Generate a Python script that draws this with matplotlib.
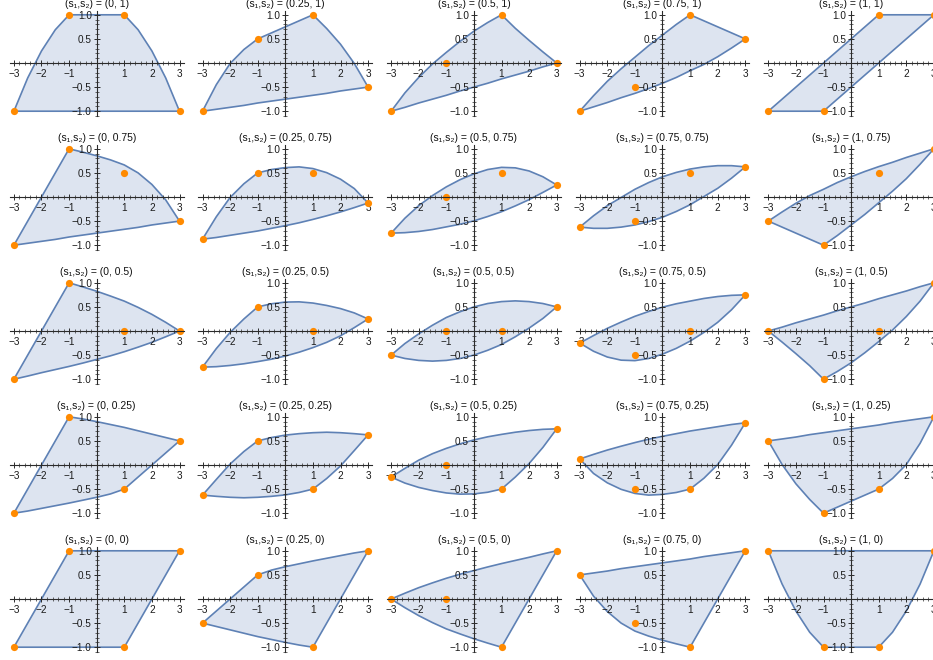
import numpy as np
import matplotlib
matplotlib.use("Agg")
import matplotlib.pyplot as plt
from matplotlib.ticker import MultipleLocator

# parameter values: columns are s1, rows are s2
s1_vals = [0, 0.25, 0.5, 0.75, 1]
s2_vals = [1, 0.75, 0.5, 0.25, 0]
s1_labels = ["0", "0.25", "0.5", "0.75", "1"]
s2_labels = ["1", "0.75", "0.5", "0.25", "0"]

# x positions where the region boundary was read
xs = [-3, -2.5, -2, -1.5, -1, -0.5, 0, 0.5, 1, 1.5, 2, 2.5, 3]
# x positions of the orange points
pt_x = [-3, -1, 1, 3]

# row s2 = 1
upper_r1 = [
    [-1, -0.31, 0.25, 0.69, 1, 1, 1, 1, 1, 0.69, 0.25, -0.31, -1],
    [-1, -0.45, -0.01, 0.28, 0.5, 0.625, 0.75, 0.875, 1, 0.715, 0.39, -0.01, -0.5],
    [-1, -0.62, -0.3, -0.02, 0.22, 0.45, 0.66, 0.84, 1, 0.72, 0.47, 0.23, 0],
    [-1, -0.68, -0.38, -0.12, 0.12, 0.36, 0.58, 0.8, 1, 0.875, 0.75, 0.625, 0.5],
    [-1, -0.75, -0.5, -0.25, 0, 0.25, 0.5, 0.75, 1, 1, 1, 1, 1],
]
lower_r1 = [
    [-1, -1, -1, -1, -1, -1, -1, -1, -1, -1, -1, -1, -1],
    [-1, -0.96, -0.92, -0.88, -0.83, -0.79, -0.75, -0.71, -0.67, -0.63, -0.58, -0.54, -0.5],
    [-1, -0.92, -0.83, -0.75, -0.67, -0.58, -0.5, -0.42, -0.33, -0.25, -0.17, -0.08, 0],
    [-1, -0.91, -0.82, -0.72, -0.63, -0.53, -0.42, -0.3, -0.16, -0.03, 0.13, 0.31, 0.5],
    [-1, -1, -1, -1, -1, -0.75, -0.5, -0.25, 0, 0.25, 0.5, 0.75, 1],
]
points_r1 = [[-1, 1, 1, -1], [-1, 0.5, 1, -0.5], [-1, 0, 1, 0], [-1, -0.5, 1, 0.5], [-1, -1, 1, 1]]

# row s2 = 0.75
upper_r2 = [
    [-1, -0.5, 0, 0.5, 1, 0.93, 0.855, 0.77, 0.665, 0.5, 0.26, -0.06, -0.5],
    [-0.875, -0.41, -0.01, 0.275, 0.5, 0.57, 0.61, 0.625, 0.59, 0.505, 0.37, 0.175, -0.125],
    [-0.75, -0.44, -0.18, 0.03, 0.21, 0.36, 0.48, 0.57, 0.615, 0.605, 0.54, 0.42, 0.25],
    [-0.625, -0.39, -0.18, -0.01, 0.16, 0.3, 0.42, 0.51, 0.58, 0.625, 0.65, 0.65, 0.625],
    [-0.5, -0.31, -0.13, 0.03, 0.16, 0.3, 0.42, 0.53, 0.63, 0.72, 0.82, 0.91, 1],
]
lower_r2 = [
    [-1, -0.96, -0.92, -0.88, -0.83, -0.79, -0.75, -0.71, -0.67, -0.63, -0.58, -0.54, -0.5],
    [-0.875, -0.84, -0.795, -0.75, -0.705, -0.65, -0.595, -0.535, -0.465, -0.39, -0.31, -0.22, -0.125],
    [-0.75, -0.74, -0.715, -0.675, -0.62, -0.565, -0.495, -0.405, -0.305, -0.185, -0.055, 0.095, 0.25],
    [-0.625, -0.65, -0.65, -0.625, -0.58, -0.51, -0.42, -0.3, -0.16, 0.01, 0.18, 0.39, 0.625],
    [-0.5, -0.625, -0.75, -0.875, -1, -0.8, -0.58, -0.36, -0.12, 0.12, 0.38, 0.68, 1],
]
points_r2 = [[-1, 1, 0.5, -0.5], [-0.875, 0.5, 0.5, -0.125], [-0.75, 0, 0.5, 0.25],
             [-0.625, -0.5, 0.5, 0.625], [-0.5, -1, 0.5, 1]]

# row s2 = 0.5
upper_r3 = [
    [-1, -0.5, 0, 0.5, 1, 0.915, 0.825, 0.725, 0.62, 0.49, 0.345, 0.18, 0],
    [-0.75, -0.365, -0.03, 0.25, 0.5, 0.565, 0.6, 0.605, 0.58, 0.53, 0.465, 0.375, 0.25],
    [-0.5, -0.26, -0.06, 0.12, 0.28, 0.4, 0.5, 0.57, 0.61, 0.625, 0.61, 0.57, 0.5],
    [-0.25, -0.095, 0.055, 0.185, 0.305, 0.405, 0.495, 0.565, 0.62, 0.675, 0.715, 0.74, 0.75],
    [0, 0.08, 0.17, 0.25, 0.33, 0.42, 0.5, 0.58, 0.67, 0.75, 0.83, 0.92, 1],
]
lower_r3 = [
    [-1, -0.935, -0.865, -0.8, -0.735, -0.665, -0.59, -0.515, -0.43, -0.335, -0.235, -0.12, 0],
    [-0.75, -0.74, -0.715, -0.68, -0.635, -0.585, -0.52, -0.44, -0.345, -0.235, -0.1, 0.07, 0.25],
    [-0.5, -0.57, -0.61, -0.625, -0.61, -0.57, -0.5, -0.4, -0.28, -0.12, 0.06, 0.26, 0.5],
    [-0.25, -0.42, -0.54, -0.605, -0.615, -0.57, -0.48, -0.36, -0.21, -0.03, 0.18, 0.44, 0.75],
    [0, -0.23, -0.47, -0.72, -1, -0.84, -0.66, -0.45, -0.22, 0.02, 0.3, 0.62, 1],
]
points_r3 = [[-1, 1, 0, 0], [-0.75, 0.5, 0, 0.25], [-0.5, 0, 0, 0.5], [-0.25, -0.5, 0, 0.75], [0, -1, 0, 1]]

# row s2 = 0.25
upper_r4 = [
    [-1, -0.5, 0, 0.5, 1, 0.955, 0.9, 0.84, 0.78, 0.71, 0.64, 0.57, 0.5],
    [-0.625, -0.3, 0.02, 0.28, 0.5, 0.57, 0.62, 0.65, 0.67, 0.68, 0.67, 0.65, 0.625],
    [-0.25, -0.07, 0.1, 0.235, 0.345, 0.44, 0.52, 0.585, 0.635, 0.68, 0.715, 0.74, 0.75],
    [0.125, 0.22, 0.31, 0.39, 0.465, 0.535, 0.595, 0.65, 0.705, 0.75, 0.795, 0.84, 0.875],
    [0.5, 0.54, 0.58, 0.63, 0.67, 0.71, 0.75, 0.79, 0.83, 0.88, 0.92, 0.96, 1],
]
lower_r4 = [
    [-1, -0.955, -0.9, -0.845, -0.79, -0.73, -0.67, -0.6, -0.5, -0.25, 0, 0.25, 0.5],
    [-0.625, -0.65, -0.67, -0.68, -0.67, -0.65, -0.62, -0.57, -0.5, -0.28, -0.02, 0.3, 0.625],
    [-0.25, -0.375, -0.465, -0.53, -0.58, -0.605, -0.6, -0.565, -0.5, -0.25, 0.03, 0.365, 0.75],
    [0.125, -0.175, -0.37, -0.505, -0.59, -0.625, -0.61, -0.57, -0.5, -0.275, 0.01, 0.41, 0.875],
    [0.5, 0.01, -0.39, -0.715, -1, -0.875, -0.75, -0.625, -0.5, -0.28, 0.01, 0.45, 1],
]
points_r4 = [[-1, 1, -0.5, 0.5], [-0.625, 0.5, -0.5, 0.625], [-0.25, 0, -0.5, 0.75],
             [0.125, -0.5, -0.5, 0.875], [0.5, -1, -0.5, 1]]

# row s2 = 0
upper_r5 = [
    [-1, -0.5, 0, 0.5, 1, 1, 1, 1, 1, 1, 1, 1, 1],
    [-0.5, -0.25, 0, 0.25, 0.5, 0.6, 0.67, 0.73, 0.79, 0.845, 0.9, 0.955, 1],
    [0, 0.12, 0.235, 0.335, 0.43, 0.515, 0.59, 0.665, 0.735, 0.8, 0.865, 0.935, 1],
    [0.5, 0.54, 0.58, 0.63, 0.67, 0.71, 0.75, 0.79, 0.83, 0.88, 0.92, 0.96, 1],
    [1, 1, 1, 1, 1, 1, 1, 1, 1, 1, 1, 1, 1],
]
lower_r5 = [
    [-1, -1, -1, -1, -1, -1, -1, -1, -1, -0.5, 0, 0.5, 1],
    [-0.5, -0.57, -0.64, -0.71, -0.78, -0.84, -0.9, -0.955, -1, -0.5, 0, 0.5, 1],
    [0, -0.18, -0.345, -0.49, -0.62, -0.725, -0.825, -0.915, -1, -0.5, 0, 0.5, 1],
    [0.5, 0.06, -0.26, -0.5, -0.665, -0.77, -0.855, -0.93, -1, -0.5, 0, 0.5, 1],
    [1, 0.31, -0.25, -0.69, -1, -1, -1, -1, -1, -0.69, -0.25, 0.31, 1],
]
points_r5 = [[-1, 1, -1, 1], [-0.5, 0.5, -1, 1], [0, 0, -1, 1], [0.5, -0.5, -1, 1], [1, -1, -1, 1]]

uppers = [upper_r1, upper_r2, upper_r3, upper_r4, upper_r5]
lowers = [lower_r1, lower_r2, lower_r3, lower_r4, lower_r5]
points = [points_r1, points_r2, points_r3, points_r4, points_r5]

# layout in pixels (figure is 933 x 660)
W, H = 933, 660
col0, col_step = 96.7, 188.6
row0, row_step = 63.0, 134.0
xpu, ypu = 27.6, 48.2
xlim = (-3.15, 3.15)
ylim = (-1.1, 1.08)

fill_c = "#dde4f0"
edge_c = "#5e81b5"
dot_c = "#ff8a00"
axis_c = "#2b2b2b"
font = "Liberation Sans"

fig = plt.figure(figsize=(W / 100, H / 100), dpi=100)

for r in range(5):
    for c in range(5):
        cx = col0 + col_step * c
        cy = row0 + row_step * r
        left = cx + xlim[0] * xpu
        width = (xlim[1] - xlim[0]) * xpu
        top = cy - ylim[1] * ypu
        height = (ylim[1] - ylim[0]) * ypu
        ax = fig.add_axes([left / W, 1 - (top + height) / H, width / W, height / H])
        ax.set_xlim(*xlim)
        ax.set_ylim(*ylim)
        ax.patch.set_alpha(0)

        up = uppers[r][c]
        lo = lowers[r][c]
        ax.fill(xs + xs[::-1], up + lo[::-1], facecolor=fill_c, edgecolor=edge_c,
                linewidth=1.2, joinstyle="round", zorder=1)
        ax.plot(pt_x, points[r][c], "o", color=dot_c, markersize=5.2, markeredgewidth=0, zorder=2,
                clip_on=False)

        for side in ["top", "right"]:
            ax.spines[side].set_visible(False)
        for side in ["left", "bottom"]:
            ax.spines[side].set_position("zero")
            ax.spines[side].set_color(axis_c)
            ax.spines[side].set_linewidth(0.8)
            ax.spines[side].set_zorder(3)

        ax.set_xticks([-3, -2, -1, 1, 2, 3])
        ax.set_xticklabels(["\u22123", "\u22122", "\u22121", "1", "2", "3"])
        ax.set_yticks([-1, -0.5, 0.5, 1])
        ax.set_yticklabels(["\u22121.0", "\u22120.5", "0.5", "1.0"])
        ax.xaxis.set_minor_locator(MultipleLocator(0.2))
        ax.yaxis.set_minor_locator(MultipleLocator(0.1))
        ax.tick_params(which="major", direction="inout", length=4, width=0.7, color=axis_c,
                       labelsize=7.2, labelcolor="#1a1a1a", pad=1.5)
        ax.tick_params(which="minor", direction="inout", length=2.2, width=0.5, color=axis_c)
        ax.tick_params(axis="x", which="major", pad=2.5)
        for lab in ax.get_xticklabels() + ax.get_yticklabels():
            lab.set_fontfamily(font)

        title = "(s\u2081,s\u2082) = (" + s1_labels[c] + ", " + s2_labels[r] + ")"
        ax.text(0, 1.23, title, ha="center", va="center", fontsize=7.5, family=font,
                color="#111111", clip_on=False)

fig.savefig("out.png", dpi=100)
